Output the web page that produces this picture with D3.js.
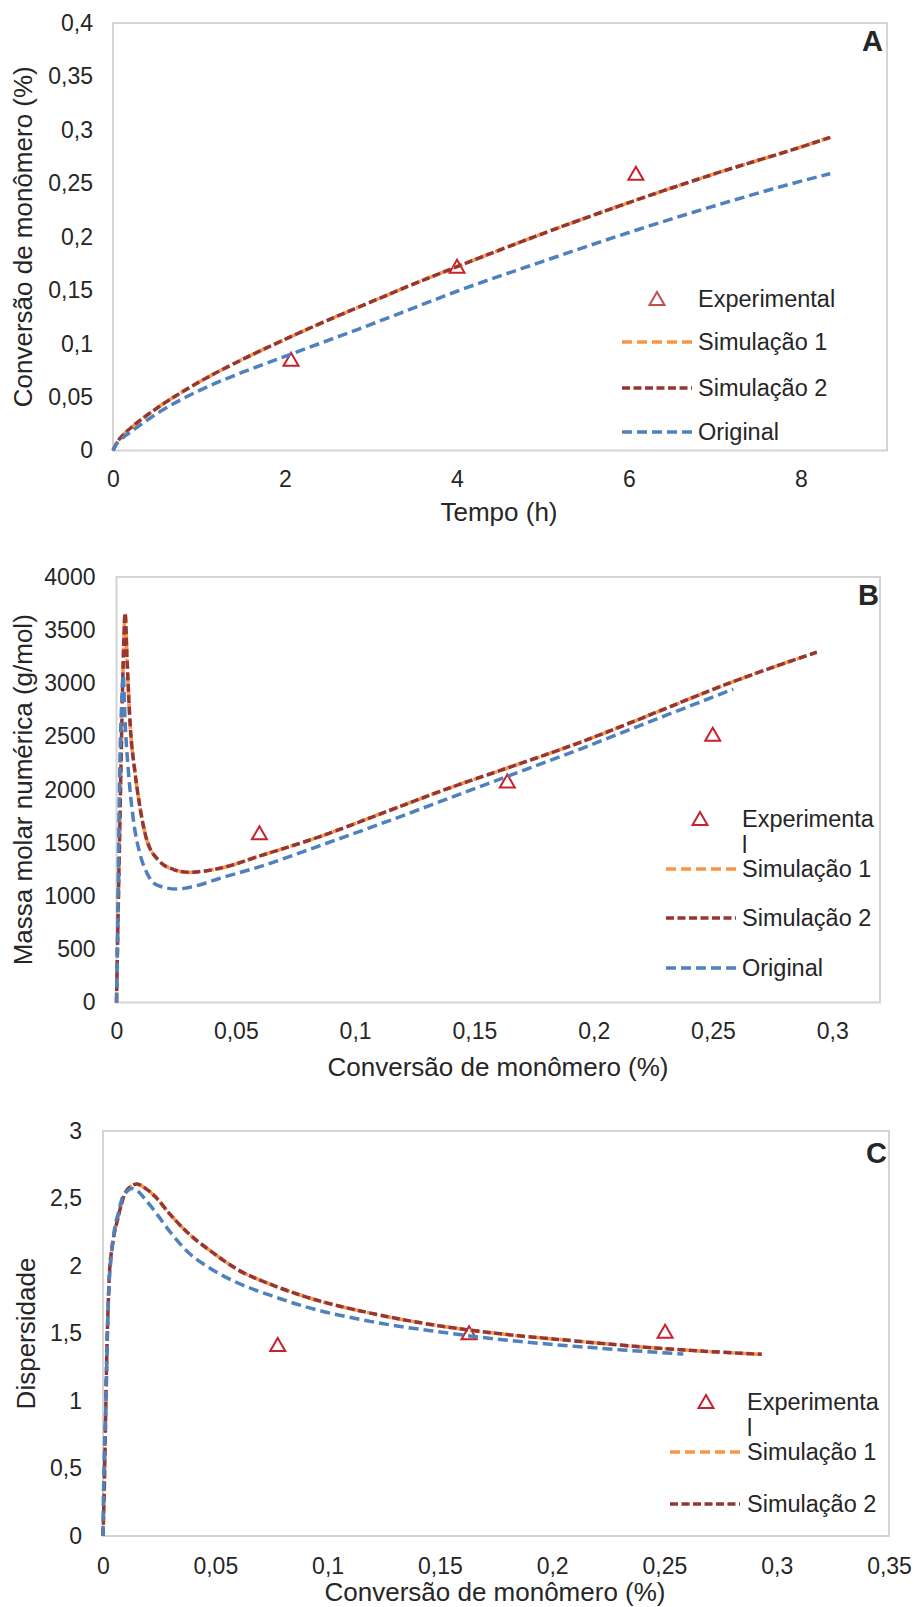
<!DOCTYPE html>
<html><head><meta charset="utf-8">
<script src="https://cdn.jsdelivr.net/npm/d3@7"></script>
<style>
body{margin:0;background:#fff}
text{font-family:"Liberation Sans",Arial,Helvetica,sans-serif;fill:#262626}
</style>
</head><body>
<svg id="chart" width="917" height="1607"></svg>
<script>
// ---------------- DATA ----------------
// Panel A: conversion vs time
const timeA = [0, 0.05, 0.1, 0.25, 0.5, 1, 1.5, 2, 2.5, 3, 3.5, 4, 5, 6, 7, 8, 8.34];
const convA_sim1 = [0, 0.008, 0.013, 0.024, 0.039, 0.064, 0.085, 0.104, 0.122, 0.139, 0.156, 0.172, 0.203, 0.232, 0.259, 0.284, 0.293];
const convA_sim2 = [0, 0.008, 0.013, 0.024, 0.039, 0.064, 0.085, 0.104, 0.122, 0.139, 0.156, 0.172, 0.203, 0.232, 0.259, 0.284, 0.293];
const convA_orig = [0, 0.007, 0.011, 0.020, 0.034, 0.056, 0.073, 0.088, 0.103, 0.118, 0.1335, 0.149, 0.177, 0.204, 0.229, 0.252, 0.259];
const timeA_exp = [2.07, 4.0, 6.08];
const convA_exp = [0.085, 0.172, 0.259];

// Panel B: number-average molar mass vs conversion
const convB_sim = [0, 0.0005, 0.0012, 0.0022, 0.003, 0.0036, 0.0045, 0.0057, 0.0078, 0.0098, 0.0127, 0.0182, 0.024, 0.0301, 0.0434, 0.0601, 0.0853, 0.1132, 0.1412, 0.1635, 0.1971, 0.2166, 0.2585, 0.2935];
const mnB_sim1 = [0, 620, 1430, 2590, 3350, 3660, 3180, 2626, 2155, 1841, 1528, 1324, 1250, 1224, 1262, 1378, 1560, 1795, 2030, 2202, 2469, 2641, 3017, 3293];
const mnB_sim2 = [0, 620, 1430, 2590, 3350, 3660, 3180, 2626, 2155, 1841, 1528, 1324, 1250, 1224, 1262, 1378, 1560, 1795, 2030, 2202, 2469, 2641, 3017, 3293];
const convB_orig = [0, 0.0005, 0.0012, 0.0022, 0.0028, 0.0036, 0.005, 0.007, 0.0098, 0.0125, 0.0168, 0.0252, 0.033, 0.0434, 0.0601, 0.0853, 0.1132, 0.1412, 0.1635, 0.1971, 0.2166, 0.2585];
const mnB_orig = [0, 710, 1970, 2845, 3080, 2640, 2170, 1730, 1400, 1230, 1105, 1067, 1095, 1168, 1277, 1475, 1700, 1936, 2124, 2406, 2579, 2946];
const convB_exp = [0.0599, 0.1638, 0.2499];
const mnB_exp = [1591, 2077, 2516];

// Panel C: dispersity vs conversion
const convC_sim = [0, 0.0005, 0.001, 0.0016, 0.0024, 0.003, 0.0039, 0.0068, 0.0098, 0.0125, 0.015, 0.0185, 0.0232, 0.030, 0.038, 0.048, 0.0603, 0.075, 0.09, 0.1196, 0.1493, 0.179, 0.2087, 0.248, 0.2933];
const dispC_sim1 = [0, 0.3, 0.72, 1.28, 1.75, 1.98, 2.12, 2.365, 2.539, 2.59, 2.607, 2.58, 2.514, 2.38, 2.242, 2.11, 1.970, 1.862, 1.773, 1.649, 1.558, 1.494, 1.447, 1.39, 1.346];
const dispC_sim2 = [0, 0.3, 0.72, 1.28, 1.75, 1.98, 2.12, 2.365, 2.539, 2.59, 2.607, 2.58, 2.514, 2.38, 2.242, 2.11, 1.970, 1.862, 1.773, 1.649, 1.558, 1.494, 1.447, 1.39, 1.346];
const convC_orig = [0, 0.0001, 0.00045, 0.0013, 0.0024, 0.0039, 0.0053, 0.0068, 0.0083, 0.0105, 0.0128, 0.0155, 0.0185, 0.0232, 0.030, 0.038, 0.048, 0.0603, 0.075, 0.09, 0.1196, 0.1493, 0.179, 0.2087, 0.2313, 0.2584];
const dispC_orig = [0, 0.17, 0.49, 0.98, 1.75, 2.1, 2.29, 2.39, 2.49, 2.55, 2.575, 2.555, 2.5, 2.402, 2.25, 2.1, 1.98, 1.872, 1.78, 1.699, 1.588, 1.513, 1.452, 1.407, 1.378, 1.348];
const convC_exp = [0.0778, 0.163, 0.2503];
const dispC_exp = [1.415, 1.501, 1.513];

// Tick labels
const ticksA_x = [0, 2, 4, 6, 8];
const ticksA_y = [0, 0.05, 0.1, 0.15, 0.2, 0.25, 0.3, 0.35, 0.4];
const ticksB_x = [0, 0.05, 0.1, 0.15, 0.2, 0.25, 0.3];
const ticksB_y = [0, 500, 1000, 1500, 2000, 2500, 3000, 3500, 4000];
const ticksC_x = [0, 0.05, 0.1, 0.15, 0.2, 0.25, 0.3, 0.35];
const ticksC_y = [0, 0.5, 1, 1.5, 2, 2.5, 3];

// Legend labels
const legendA = [["Experimental"], ["Simulação 1"], ["Simulação 2"], ["Original"]];
const legendB = [["Experimenta", "l"], ["Simulação 1"], ["Simulação 2"], ["Original"]];
const legendC = [["Experimenta", "l"], ["Simulação 1"], ["Simulação 2"]];

// ---------------- STYLE ----------------
const COL = {sim1: "#f79646", sim2: "#963634", orig: "#4f81bd", exp: "#c8202c"};
const DASH = {sim1: "10,5", sim2: "8,3.5", orig: "10,5"};
const fmt = v => String(+(+v).toFixed(3)).replace(".", ",");

const svg = d3.select("#chart");
svg.append("rect").attr("width", 917).attr("height", 1607).attr("fill", "#fff");

function triPath(cx, cy) {
  return `M${cx},${cy - 7}L${cx + 7.5},${cy + 6}L${cx - 7.5},${cy + 6}Z`;
}

function panel(cfg) {
  const g = svg.append("g");
  const x = d3.scaleLinear().domain(cfg.xd).range([cfg.left, cfg.right]);
  const y = d3.scaleLinear().domain(cfg.yd).range([cfg.bottom, cfg.top]);

  g.append("rect").attr("x", cfg.left).attr("y", cfg.top)
    .attr("width", cfg.right - cfg.left).attr("height", cfg.bottom - cfg.top)
    .attr("fill", "none").attr("stroke", "#d4d4d4").attr("stroke-width", 2);

  const ya = g.append("g").attr("transform", `translate(${cfg.left},0)`)
    .call(d3.axisLeft(y).tickValues(cfg.yt).tickSize(0).tickPadding(cfg.ypad).tickFormat(fmt));
  const xa = g.append("g").attr("transform", `translate(0,${cfg.bottom})`)
    .call(d3.axisBottom(x).tickValues(cfg.xt).tickSize(0).tickPadding(cfg.xpad).tickFormat(fmt));
  [ya, xa].forEach(a => {
    a.select(".domain").remove();
    a.selectAll("text").attr("font-size", 23).attr("fill", "#262626")
      .style("font-family", '"Liberation Sans",Arial,sans-serif');
  });

  // axis titles
  g.append("text").attr("x", cfg.xtx).attr("y", cfg.xty).attr("text-anchor", "middle")
    .attr("font-size", 26).text(cfg.xtitle);
  g.append("text").attr("transform", `translate(${cfg.ytx},${(cfg.top + cfg.bottom) / 2}) rotate(-90)`)
    .attr("text-anchor", "middle").attr("dominant-baseline", "central")
    .attr("font-size", 26).text(cfg.ytitle);

  // panel letter
  g.append("text").attr("x", cfg.lx).attr("y", cfg.ly).attr("text-anchor", "end")
    .attr("font-size", 29).attr("font-weight", "bold").attr("fill", "#111").text(cfg.letter);

  // experimental markers
  g.selectAll("path.exp").data(cfg.exp.x.map((v, i) => [v, cfg.exp.y[i]])).enter()
    .append("path").attr("class", "exp")
    .attr("d", d => triPath(x(d[0]), y(d[1])))
    .attr("fill", "none").attr("stroke", COL.exp).attr("stroke-width", 2);

  const line = d3.line().x(d => x(d[0])).y(d => y(d[1])).curve(d3.curveMonotoneX);
  cfg.series.forEach(s => {
    g.append("path").datum(s.x.map((v, i) => [v, s.y[i]]))
      .attr("d", line).attr("fill", "none").attr("stroke", COL[s.key])
      .attr("stroke-width", 3.5).attr("stroke-dasharray", DASH[s.key]);
  });

  // legend
  const L = cfg.leg;
  cfg.legend.forEach((lab, i) => {
    const ry = L.rows[i];
    const key = L.keys[i];
    if (key === "exp") {
      g.append("path").attr("d", triPath(L.mx, ry)).attr("fill", "none")
        .attr("stroke", L.expCol || COL.exp).attr("stroke-width", 2);
    } else {
      g.append("line").attr("x1", L.x0).attr("x2", L.x1).attr("y1", ry).attr("y2", ry)
        .attr("stroke", COL[key]).attr("stroke-width", 3.5).attr("stroke-dasharray", DASH[key]);
    }
    const t = g.append("text").attr("x", L.tx).attr("y", ry + 8).attr("font-size", 23.5);
    lab.forEach((ln, j) => {
      t.append("tspan").attr("x", L.tx).attr("dy", j === 0 ? 0 : 26).text(ln);
    });
  });
}

panel({
  left: 113, right: 887, top: 23, bottom: 450.5,
  xd: [0, 9], yd: [0, 0.4], xt: ticksA_x, yt: ticksA_y, ypad: 20, xpad: 20,
  xtitle: "Tempo (h)", xtx: 499, xty: 521,
  ytitle: "Conversão de monômero (%)", ytx: 23,
  letter: "A", lx: 883, ly: 50.5,
  exp: {x: timeA_exp, y: convA_exp},
  series: [
    {key: "sim1", x: timeA, y: convA_sim1},
    {key: "sim2", x: timeA, y: convA_sim2},
    {key: "orig", x: timeA, y: convA_orig}
  ],
  legend: legendA,
  leg: {mx: 657, x0: 622, x1: 692, tx: 698, rows: [299, 342, 388, 432], keys: ["exp", "sim1", "sim2", "orig"], expCol: "#c0504d"}
});

panel({
  left: 116.5, right: 880, top: 577, bottom: 1002.5,
  xd: [0, 0.32], yd: [0, 4000], xt: ticksB_x, yt: ticksB_y, ypad: 21, xpad: 20,
  xtitle: "Conversão de monômero (%)", xtx: 498, xty: 1076,
  ytitle: "Massa molar numérica (g/mol)", ytx: 23,
  letter: "B", lx: 879, ly: 605,
  exp: {x: convB_exp, y: mnB_exp},
  series: [
    {key: "sim1", x: convB_sim, y: mnB_sim1},
    {key: "sim2", x: convB_sim, y: mnB_sim2},
    {key: "orig", x: convB_orig, y: mnB_orig}
  ],
  legend: legendB,
  leg: {mx: 700, x0: 666, x1: 736, tx: 742, rows: [819, 869, 918, 968], keys: ["exp", "sim1", "sim2", "orig"]}
});

panel({
  left: 103, right: 889, top: 1131, bottom: 1536,
  xd: [0, 0.35], yd: [0, 3], xt: ticksC_x, yt: ticksC_y, ypad: 21, xpad: 22,
  xtitle: "Conversão de monômero (%)", xtx: 495, xty: 1601,
  ytitle: "Dispersidade", ytx: 26,
  letter: "C", lx: 887, ly: 1163,
  exp: {x: convC_exp, y: dispC_exp},
  series: [
    {key: "sim1", x: convC_sim, y: dispC_sim1},
    {key: "sim2", x: convC_sim, y: dispC_sim2},
    {key: "orig", x: convC_orig, y: dispC_orig}
  ],
  legend: legendC,
  leg: {mx: 706, x0: 670, x1: 740, tx: 747, rows: [1402, 1452, 1504], keys: ["exp", "sim1", "sim2"]}
});
</script>
</body></html>
